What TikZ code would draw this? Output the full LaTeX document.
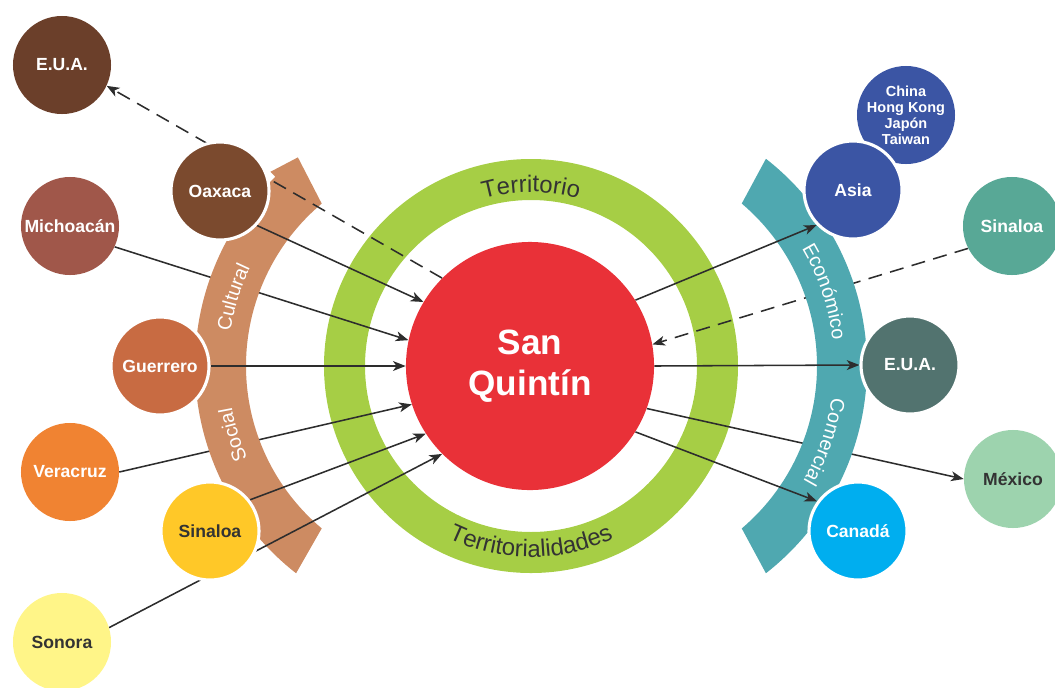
\documentclass[tikz,border=0pt]{standalone}
\usepackage{fontspec}
\setmainfont{Liberation Sans}
\usetikzlibrary{arrows.meta,decorations.text}
\definecolor{ringc}{RGB}{166,206,69}
\definecolor{redc}{RGB}{233,49,56}
\definecolor{cultc}{RGB}{205,139,98}
\definecolor{econc}{RGB}{79,168,176}
\definecolor{linkc}{RGB}{45,45,45}
\definecolor{textc}{RGB}{51,51,51}
\definecolor{euac}{RGB}{107,63,42}
\definecolor{oaxc}{RGB}{123,74,46}
\definecolor{michc}{RGB}{160,87,74}
\definecolor{groc}{RGB}{200,107,66}
\definecolor{verc}{RGB}{240,131,50}
\definecolor{sinc}{RGB}{255,200,40}
\definecolor{sonc}{RGB}{255,245,136}
\definecolor{asiac}{RGB}{59,85,164}
\definecolor{sinrc}{RGB}{88,168,150}
\definecolor{euarc}{RGB}{82,115,111}
\definecolor{mexc}{RGB}{157,211,174}
\definecolor{canc}{RGB}{0,174,239}
\newcommand\bandtext{\fontsize{14}{16}\selectfont\color{white}}
\newcommand\ringtext{\fontsize{17}{20}\selectfont\color{textc}}
\pgfdeclarelayer{ring}
\pgfdeclarelayer{low}
\pgfdeclarelayer{band}
\pgfdeclarelayer{links}
\pgfsetlayers{ring,low,band,links,main}
\begin{document}
\begin{tikzpicture}[x=0.025cm,y=-0.025cm,
  place/.style={circle,inner sep=0pt,minimum size=2.45cm,text=white,align=center,
    font=\bfseries\fontsize{12.5}{14}\selectfont},
  ringed/.style={draw=white,line width=2.2pt},
  link/.style={linkc,line width=1.1pt,-{Stealth[length=9pt,width=7pt,inset=2.5pt]}},
  dlink/.style={link,dash pattern=on 10pt off 6pt}]
\useasboundingbox (0,0) rectangle (1055,687);
\node[place,fill=redc,minimum size=6.2cm,font=\bfseries\fontsize{25}{29.5}\selectfont] (sq) at (530,366) {San\\Quintín};
\node[place,fill=euac] (eual) at (62,65) {E.U.A.};
\node[place,fill=oaxc,ringed] (oax) at (220,191) {Oaxaca};
\node[place,fill=michc] (mich) at (70,226) {Michoacán};
\node[place,fill=groc,ringed] (gro) at (160,366) {Guerrero};
\node[place,fill=verc] (ver) at (70,472) {Veracruz};
\node[place,fill=sinc,ringed,text=textc] (sinl) at (210,531) {Sinaloa};
\node[place,fill=sonc,text=textc] (son) at (62,642) {Sonora};
\node[place,fill=asiac,font=\bfseries\fontsize{10.3}{11.3}\selectfont] (asiag) at (906,115) {China\\Hong Kong\\Japón\\Taiwan};
\node[place,fill=asiac,ringed] (asia) at (853,190) {Asia};
\node[place,fill=sinrc] (sinr) at (1012,226) {Sinaloa};
\node[place,fill=euarc,ringed] (euar) at (910,365) {E.U.A.};
\node[place,fill=mexc,text=textc] (mex) at (1013,479) {México};
\node[place,fill=canc,ringed] (can) at (858,531) {Canadá};
\begin{pgfonlayer}{ring}
\draw[ringc,line width=1.025cm] (531,366) circle[radius=186.5];
\path[decorate,decoration={text along path,text align=center,text={|\ringtext|Territorio}}]
  (531,366) ++(-130:174) arc[start angle=-130,end angle=-50,radius=174];
\path[decorate,decoration={text along path,text align=center,text={|\ringtext|Territorialidades}}]
  (531,366) ++(-215:191) arc[start angle=-215,end angle=-325,radius=191];
\end{pgfonlayer}
\begin{pgfonlayer}{band}
\begin{scope}[shift={(458,366)}]
\fill[cultc] (-232:263) arc[start angle=-232,end angle=-134,radius=263] -- (-134:270)
  -- (-127.5:263) -- (-130:212) arc[start angle=-130,end angle=-230,radius=212] -- cycle;
\path[decorate,decoration={text along path,text align=center,text={|\bandtext|Cultural}}]
  (-193:230) arc[start angle=-193,end angle=-133,radius=230];
\path[decorate,decoration={text along path,text align=center,text={|\bandtext|Social}}]
  (-227:230) arc[start angle=-227,end angle=-167,radius=230];
\end{scope}
\begin{scope}[shift={(604,366)}]
\fill[econc] (-52:263) arc[start angle=-52,end angle=52,radius=263]
  -- (49.7:213) arc[start angle=49.7,end angle=-49.7,radius=213] -- cycle;
\path[decorate,decoration={text along path,text align=center,text={|\bandtext|Económico}}]
  (-48.6:230) arc[start angle=-48.6,end angle=11.4,radius=230];
\path[decorate,decoration={text along path,text align=center,text={|\bandtext|Comercial}}]
  (-11:230) arc[start angle=-11,end angle=49,radius=230];
\end{scope}
\end{pgfonlayer}
\begin{pgfonlayer}{low}
\draw[link] (mich.-25) -- (sq.168);
\draw[link] (ver.0) -- (sq.198);
\draw[dlink] (sinr.207) -- (sq.10);
\draw[link] (sq.-20) -- (mex.180);
\end{pgfonlayer}
\begin{pgfonlayer}{links}
\draw[link] (oax.-43) -- (sq.149);
\draw[link] (gro.east) -- (sq.west);
\draw[link] (sinl.38) -- (sq.213);
\draw[link] (son.17) -- (sq.225);
\draw[dlink] (sq.135) -- (eual.-25);
\draw[link] (sq.32) -- (asia.224);
\draw[link] (sq.east) -- (euar.west);
\draw[link] (sq.-32) -- (can.144);
\end{pgfonlayer}
\end{tikzpicture}
\end{document}
